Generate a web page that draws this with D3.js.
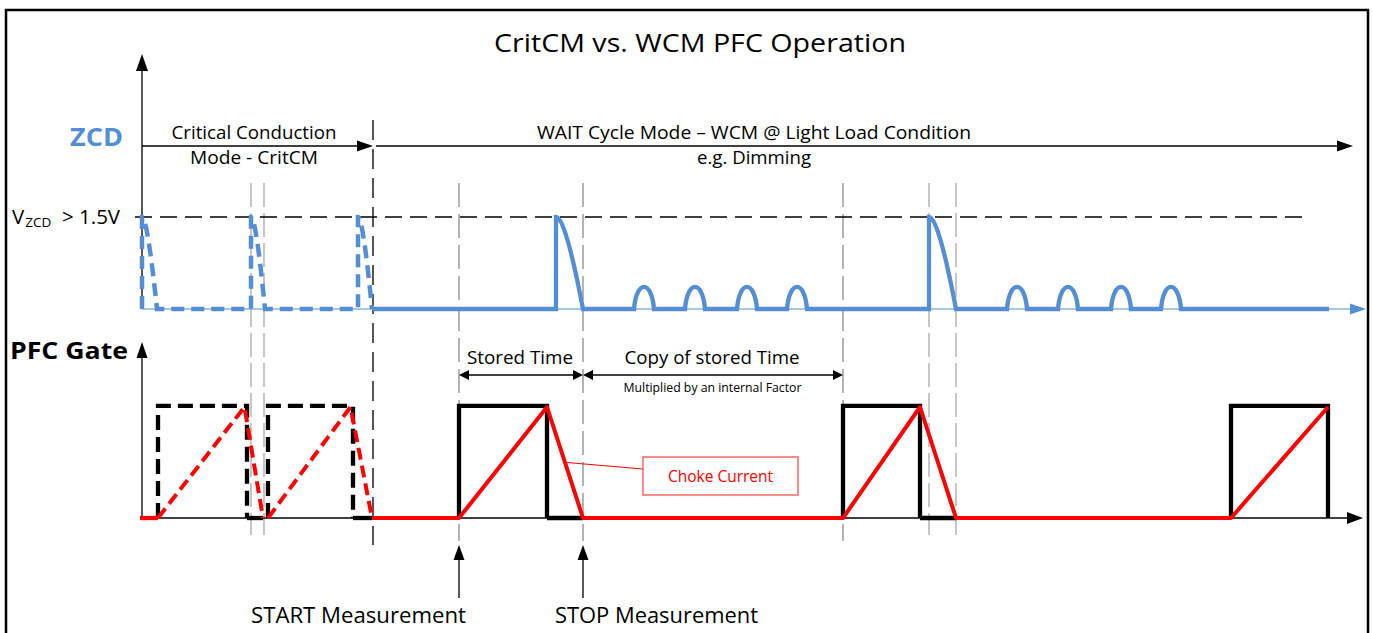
<!DOCTYPE html>
<html>
<head>
<meta charset="utf-8">
<script src="https://cdnjs.cloudflare.com/ajax/libs/d3/7.8.5/d3.min.js"></script>
<style>
  body { margin: 0; background: #fff; }
  svg { display: block; font-family: "Open Sans", sans-serif; }
</style>
</head>
<body>
<script>
// time axis in arbitrary units, 0 = origin of the ZCD / gate axes
var critCycles = [          // CritCM switching cycles (dashed)
  { on: 1.6,  off: 10.5, zero: 12.1 },
  { on: 12.6, off: 21.1, zero: 23.0 }
];
var wcmCycles = [           // WCM switching cycles (solid)
  { on: 31.7,  off: 40.5,  zero: 44.1 },
  { on: 70.1,  off: 77.8,  zero: 81.4 },
  { on: 108.9, off: 118.6, zero: null }
];
var critZcd = [             // ZCD demag pulses in CritCM
  { rise: 0.0,  end: 1.5 },
  { rise: 10.9, end: 12.3 },
  { rise: 21.6, end: 23.0 }
];
var wcmZcd = [              // ZCD demag pulses in WCM
  { rise: 41.4, end: 44.1 },
  { rise: 78.7, end: 81.4 }
];
var ringBumps = [50.2, 55.3, 60.5, 65.5, 87.5, 92.6, 97.9, 102.9];   // ringing after demag
var bumpHeight = 0.24, bumpWidth = 2.0;
var guidePairs = [10.9, 12.2, 78.7, 81.4];      // short thin guides
var guideLong = [31.7, 44.1, 70.1];             // measurement guides
var modeSplit = 23.1;                           // CritCM -> WCM
var measureMarks = [31.7, 44.1];                // START / STOP
var measureLabels = ["START Measurement", "STOP Measurement"];
var spans = [
  { from: 31.7, to: 44.1, label: "Stored Time" },
  { from: 44.1, to: 70.1, label: "Copy of stored Time", sub: "Multiplied by an internal Factor" }
];
var zcdEnd = 118.7, currentStart = -0.2;

var W = 1373, H = 633;
var BLUE = "#558ed5", RED = "#ff0000";

var svg = d3.select("body").append("svg").attr("width", W).attr("height", H);

var x = d3.scaleLinear().domain([0, 122]).range([142, 1362]);
var yZ = d3.scaleLinear().domain([0, 1]).range([309, 217]);
var yG = d3.scaleLinear().domain([0, 1]).range([518, 407]);

function head(tx, ty, dir, len, half, color) {
  var p;
  if (dir === "up") p = [[tx, ty], [tx - half, ty + len], [tx + half, ty + len]];
  if (dir === "right") p = [[tx, ty], [tx - len, ty - half], [tx - len, ty + half]];
  if (dir === "left") p = [[tx, ty], [tx + len, ty - half], [tx + len, ty + half]];
  svg.append("path").attr("d", "M" + p.join("L") + "Z").attr("fill", color);
}

function line(x1, y1, x2, y2, color, w, dash) {
  return svg.append("line")
    .attr("x1", x1).attr("y1", y1).attr("x2", x2).attr("y2", y2)
    .attr("stroke", color).attr("stroke-width", w)
    .attr("stroke-dasharray", dash || null);
}

function label(txt, px, py, size, width, anchor, opts) {
  opts = opts || {};
  var t = svg.append("text")
    .attr("x", px).attr("y", py)
    .attr("font-size", size)
    .attr("text-anchor", anchor || "middle")
    .attr("fill", opts.fill || "#000")
    .attr("font-weight", opts.bold ? "bold" : null)
    .text(txt);
  if (width) t.attr("textLength", width).attr("lengthAdjust", "spacingAndGlyphs");
  return t;
}

// frame
svg.append("rect").attr("x", 6).attr("y", 10).attr("width", 1362).attr("height", 660)
  .attr("fill", "none").attr("stroke", "#000").attr("stroke-width", 2.5);

// title
label("CritCM vs. WCM PFC Operation", 700, 52, 26, 412);

// ---- guides
guidePairs.forEach(function (t) {
  line(x(t), 183, x(t), 535, "#999", 1.1, "24,6");
});
guideLong.forEach(function (t) {
  line(x(t), 183, x(t), 541, "#8c8c8c", 1.3, "24,7");
});
line(x(modeSplit), 120, x(modeSplit), 545, "#444", 1.8, "20,9");

// ---- ZCD section
label("ZCD", 70, 146, 25, 53, "start", { fill: BLUE, bold: true });
line(x(0), 70, x(0), yZ(0), "#000", 1.3);
head(x(0), 54, "up", 17, 6, "#000");
line(x(0), yZ(0), x(122.4) - 14, yZ(0), "#8db3e2", 1.6);
head(x(122.4), yZ(0), "right", 16, 5.5, BLUE);

// mode arrows
line(x(0), 146, x(modeSplit) - 15, 146, "#000", 1.3);
head(x(modeSplit), 146, "right", 16, 5.5, "#000");
line(x(modeSplit) + 3, 146, x(121.1) - 15, 146, "#000", 1.3);
head(x(121.1), 146, "right", 16, 5.5, "#000");

label("Critical Conduction", 254, 139, 18.5, 165);
label("Mode - CritCM", 254, 164, 18.5, 128);
label("WAIT Cycle Mode \u2013 WCM @ Light Load Condition", 754, 139, 18.5, 434);
label("e.g. Dimming", 754, 164, 18.5, 114);

// threshold
line(x(-0.7), yZ(1), x(116.3), yZ(1), "#000", 1.3, "17,8");
var vz = svg.append("text").attr("x", 12).attr("y", 224).attr("font-size", 20.5);
vz.append("tspan").text("V");
vz.append("tspan").attr("font-size", 13.5).attr("dy", 3).attr("dx", 1).text("ZCD");
vz.append("tspan").attr("x", 62).attr("dy", -3).text("> 1.5V");

function demag(p, d) {
  var w = d.end - d.rise;
  p.lineTo(x(d.rise), yZ(1));
  p.quadraticCurveTo(x(d.rise + 0.35 * w), yZ(1), x(d.end), yZ(0));
}
function bump(p, c) {
  var a = c - bumpWidth / 2, b = c + bumpWidth / 2;
  p.lineTo(x(a), yZ(0));
  p.bezierCurveTo(x(a + 0.12 * bumpWidth), yZ(bumpHeight * 4 / 3),
                  x(b - 0.12 * bumpWidth), yZ(bumpHeight * 4 / 3), x(b), yZ(0));
}

// dashed CritCM ZCD
var pz = d3.path();
pz.moveTo(x(critZcd[0].rise), yZ(0));
critZcd.forEach(function (d) { pz.lineTo(x(d.rise), yZ(0)); demag(pz, d); });
svg.append("path").attr("d", pz.toString()).attr("fill", "none")
  .attr("stroke", BLUE).attr("stroke-width", 4.5).attr("stroke-dasharray", "13,7");

// solid WCM ZCD
var pw = d3.path();
pw.moveTo(x(modeSplit), yZ(0));
var evts = wcmZcd.map(function (d) { return { t: d.rise, d: d }; })
  .concat(ringBumps.map(function (c) { return { t: c, c: c }; }))
  .sort(function (a, b) { return a.t - b.t; });
evts.forEach(function (e) {
  if (e.d) { pw.lineTo(x(e.d.rise), yZ(0)); demag(pw, e.d); }
  else bump(pw, e.c);
});
pw.lineTo(x(zcdEnd), yZ(0));
svg.append("path").attr("d", pw.toString()).attr("fill", "none")
  .attr("stroke", BLUE).attr("stroke-width", 4.3);

// ---- PFC Gate section
label("PFC Gate", 10, 359, 23, 118, "start", { bold: true });
line(x(0), 356, x(0), yG(0), "#000", 1.3);
head(x(0), 342, "up", 16, 5.5, "#000");
line(x(0), yG(0), x(122.1) - 15, yG(0), "#000", 1.3);
head(x(122.1), yG(0), "right", 16, 6, "#000");

function gatePath(c) {
  var p = d3.path();
  p.moveTo(x(c.on), yG(0));
  p.lineTo(x(c.on), yG(1.01));
  p.lineTo(x(c.off), yG(1.01));
  p.lineTo(x(c.off), yG(0));
  return p.toString();
}
critCycles.forEach(function (c) {
  svg.append("path").attr("d", gatePath(c)).attr("fill", "none")
    .attr("stroke", "#000").attr("stroke-width", 4.3).attr("stroke-dasharray", "15,7");
});
wcmCycles.forEach(function (c) {
  svg.append("path").attr("d", gatePath(c)).attr("fill", "none")
    .attr("stroke", "#000").attr("stroke-width", 4.3).attr("stroke-linejoin", "miter");
});
critCycles.concat(wcmCycles).forEach(function (c) {
  if (c.zero != null) line(x(c.off), yG(0), x(c.zero), yG(0), "#000", 4.3);
});

// choke current
critCycles.forEach(function (c) {
  var p = d3.path();
  p.moveTo(x(c.on), yG(0));
  p.lineTo(x(c.off - 0.25), yG(1));
  p.lineTo(x(c.zero), yG(0));
  svg.append("path").attr("d", p.toString()).attr("fill", "none")
    .attr("stroke", RED).attr("stroke-width", 4).attr("stroke-dasharray", "12,6");
});
line(x(currentStart), yG(0), x(critCycles[0].on), yG(0), RED, 4.3);
var pc = d3.path();
pc.moveTo(x(critCycles[critCycles.length - 1].zero), yG(0));
wcmCycles.forEach(function (c) {
  pc.lineTo(x(c.on), yG(0));
  pc.lineTo(x(c.off), yG(1));
  if (c.zero != null) pc.lineTo(x(c.zero), yG(0));
});
svg.append("path").attr("d", pc.toString()).attr("fill", "none")
  .attr("stroke", RED).attr("stroke-width", 4).attr("stroke-linejoin", "round");

// callout
var fc = wcmCycles[0];
var lx = x(fc.off) + (x(fc.zero) - x(fc.off)) * 0.5 + 2;
line(lx, yG(0.5), 643, 469, RED, 1);
svg.append("rect").attr("x", 643).attr("y", 457).attr("width", 155).attr("height", 38)
  .attr("fill", "#fff").attr("stroke", "#ff4d4d").attr("stroke-width", 1.3);
label("Choke Current", 720.5, 482, 16.5, 105, "middle", { fill: RED });

// stored time spans
spans.forEach(function (s) {
  var a = x(s.from), b = x(s.to), yy = 375;
  line(a + 8, yy, b - 8, yy, "#000", 1.3);
  head(a, yy, "left", 10, 5, "#000");
  head(b, yy, "right", 10, 5, "#000");
  label(s.label, (a + b) / 2 - 1, 364, 19, s.label.length > 12 ? 175 : 106);
  if (s.sub) label(s.sub, (a + b) / 2 - 0.5, 392, 13, 178);
});

// START / STOP
measureMarks.forEach(function (t, i) {
  line(x(t), 598, x(t), 558, "#000", 1.3);
  head(x(t), 545, "up", 15, 5.5, "#000");
  if (i === 0) label(measureLabels[i], x(t) + 7, 623, 21, 215, "end");
  else label(measureLabels[i], x(t) - 28, 623, 21, 203, "start");
});
</script>
</body>
</html>
